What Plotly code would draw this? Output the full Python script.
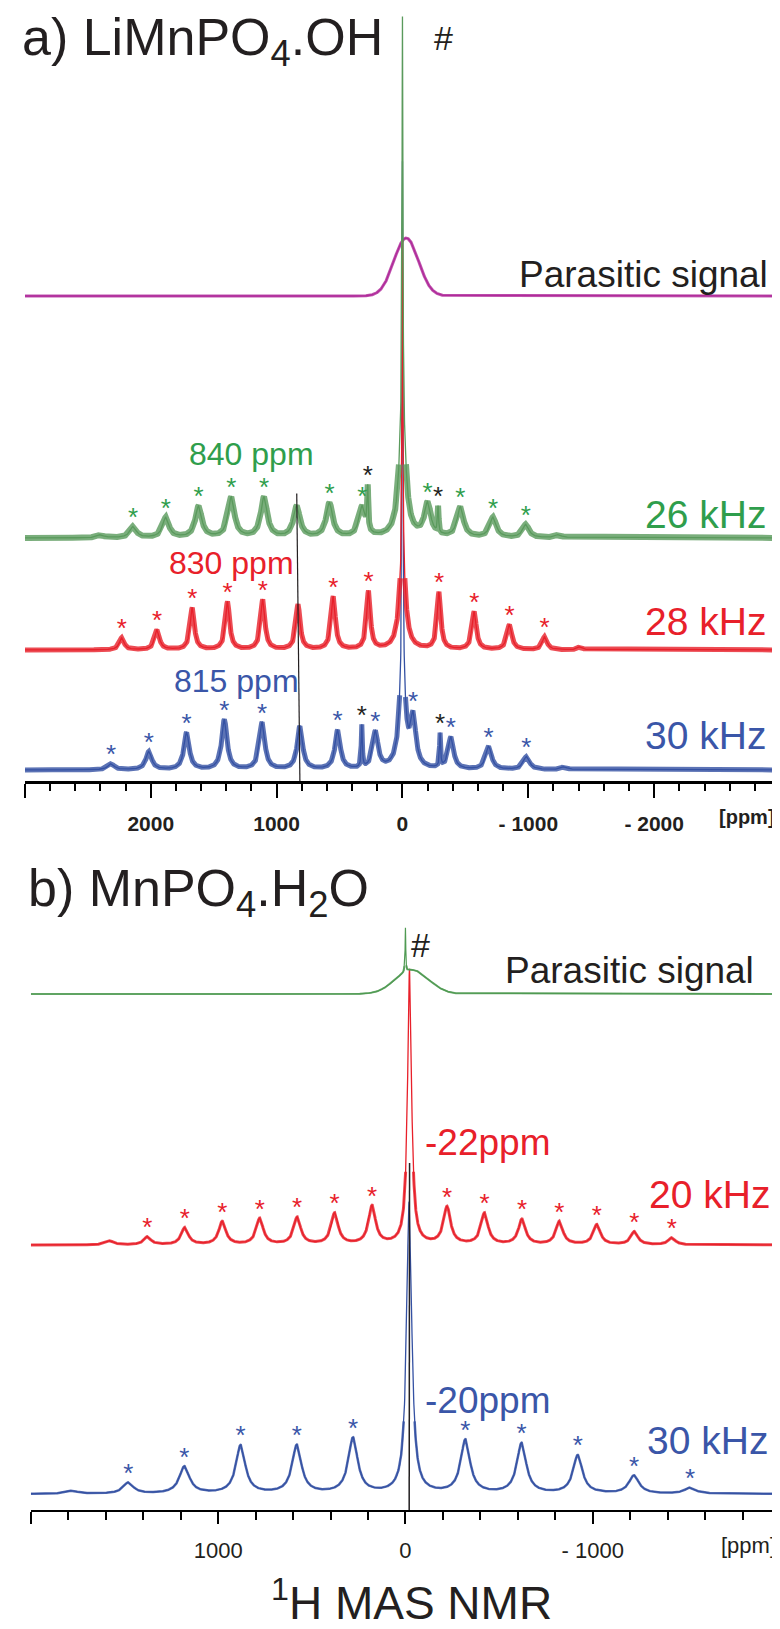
import numpy as np
import plotly.graph_objects as go

# ---------------- DATA ----------------
# Panel a) LiMnPO4.OH  -- peak lists: position (ppm), height (intensity units), FWHM (ppm)
a_par_pos = [-30]
a_par_h = [58]
a_par_w = [230]

a26_pos = [0, 0, 2400, 2140, 1880, 1620, 1360, 1100, 840, 580, 320, 276, -200, -283, -460, -720, -980, -1240]
a26_h = [400, 120, 3, 11, 20, 31, 40, 40, 31, 34, 30, 42, 33, 26, 30, 20, 13, 3]
a26_w = [8, 60, 60, 60, 60, 60, 60, 60, 60, 60, 60, 10, 60, 10, 60, 60, 60, 60]
a26_stars = [2140, 1880, 1620, 1360, 1100, 580, 320, -200, -460, -720, -980]
a26_black = [276, -283]

a28_pos = [0, 0, 2230, 1950, 1670, 1390, 1110, 830, 550, 270, -290, -570, -850, -1130, -1410]
a28_h = [330, 80, 12, 20, 42, 48, 50, 45, 53, 58, 57, 38, 25, 13, 3]
a28_w = [8, 60, 45, 45, 40, 40, 40, 40, 40, 35, 35, 40, 45, 45, 45]
a28_stars = [2230, 1950, 1670, 1390, 1110, 550, 270, -290, -570, -850, -1130]

a30_pos = [0, 0, 2315, 2015, 1715, 1415, 1115, 815, 515, 323, 215, -85, -299, -385, -685, -985, -1285]
a30_h = [520, 84, 6, 18, 37, 50, 47, 43, 39, 42, 37, 48, 33, 32, 23, 13, 3]
a30_w = [8, 60, 60, 55, 50, 50, 50, 50, 50, 10, 50, 50, 10, 50, 55, 60, 60]
a30_stars = [2315, 2015, 1715, 1415, 1115, 515, 215, -85, -385, -685, -985]
a30_black = [323, -299]

iso_a = [840, 830, 815]            # isotropic shifts (26, 28, 30 kHz)
iso_a_labels = ["840 ppm", "830 ppm", "815 ppm"]

# Panel b) MnPO4.H2O
b_par_pos = [-35]
b_par_h = [24]
b_par_w = [210]
b_par_spike_pos = [0]
b_par_spike_h = [44]

b20_pos = [-22, 1578, 1378, 1178, 978, 778, 578, 378, 178, -222, -422, -622, -822, -1022, -1222, -1422]
b20_h = [275, 4, 8, 17, 23, 26, 27, 31, 38, 37, 31, 25, 23, 20, 13, 7]
b20_w = [25, 50, 45, 45, 45, 45, 45, 45, 45, 45, 45, 45, 45, 45, 45, 45]
b20_stars = [1378, 1178, 978, 778, 578, 378, 178, -222, -422, -622, -822, -1022, -1222, -1422]

b30_pos = [-20, 1780, 1480, 1180, 880, 580, 280, -320, -620, -920, -1220, -1520]
b30_h = [291, 3, 11, 27, 48, 48, 55, 53, 50, 38, 18, 6]
b30_w = [33, 70, 65, 65, 60, 60, 60, 60, 60, 60, 65, 70]
b30_stars = [1480, 1180, 880, 580, 280, -320, -620, -920, -1220, -1520]

iso_b = [-22, -20]
iso_b_labels = ["-22ppm", "-20ppm"]

ticks_a = [3000, 2000, 1000, 0, -1000, -2000, -3000]
ticks_a_text = [" ", "2000", "1000", "0", "- 1000", "- 2000", " "]
ticks_b = [2000, 1000, 0, -1000, -2000]
ticks_b_text = [" ", "1000", "0", "- 1000", " "]

# ---------------- helpers ----------------
W, H = 780, 1629
xa = np.arange(-3000, 3001, 1.0)
xb = np.arange(-2000, 2001, 1.0)


def lor(x, pos, h, w):
    y = np.zeros_like(x)
    for p, hh, ww in zip(pos, h, w):
        y += hh / (1 + ((x - p) / (ww / 2.0)) ** 2)
    return y


def gau(x, pos, h, w):
    y = np.zeros_like(x)
    for p, hh, ww in zip(pos, h, w):
        y += hh * np.exp(-4 * np.log(2) * ((x - p) / ww) ** 2)
    return y


def px(x, y):
    return x / W, 1 - y / H

# pixel geometry
A_AXIS, A_TOP = 773, 0
B_AXIS, B_TOP = 1502, 880
base_a = {"par": 288, "26": 530, "28": 642, "30": 762}
base_b = {"par": 986, "20": 1237, "30": 1486}

GREEN_T, GREEN_L = "#2f9e4c", "#5a9a5c"
RED = "#e8202a"
BLUE_T, BLUE_L = "#3a56a8", "#3451a3"
MAG = "#b02a9a"
GREEN_B = "#4f9a52"
BLACK = "#231f20"

fig = go.Figure()


def add_spec(x, y, off, color, band, xaxis, yaxis, core=1.3, cap=75):
    # wide translucent band imitates the noise envelope near the baseline only
    yb = np.where(y > cap, np.nan, y) + off
    fig.add_trace(go.Scatter(x=x, y=yb, mode="lines", line=dict(color=color, width=band),
                             opacity=0.8, xaxis=xaxis, yaxis=yaxis, hoverinfo="skip",
                             showlegend=False, connectgaps=False))
    fig.add_trace(go.Scatter(x=x, y=y + off, mode="lines", line=dict(color=color, width=core),
                             xaxis=xaxis, yaxis=yaxis, hoverinfo="skip", showlegend=False))


def add_stars(x, y, off, positions, color, xaxis, yaxis, lift=7):
    sy = np.interp(positions, x, y) + off + lift
    fig.add_trace(go.Scatter(x=positions, y=sy, mode="text", text=["*"] * len(positions),
                             textfont=dict(family="Arial, Liberation Sans", size=26, color=color),
                             textposition="middle center", xaxis=xaxis, yaxis=yaxis,
                             hoverinfo="skip", showlegend=False))

# ---- panel a ----
ya_par = gau(xa, a_par_pos, a_par_h, a_par_w)
ya26 = lor(xa, a26_pos, a26_h, a26_w)
ya28 = lor(xa, a28_pos, a28_h, a28_w)
ya30 = lor(xa, a30_pos, a30_h, a30_w)
oa = {k: A_AXIS - v for k, v in base_a.items()}

add_spec(xa, ya_par, oa["par"], MAG, 3, "x", "y", cap=200)
add_spec(xa, ya30, oa["30"], BLUE_L, 5, "x", "y")
add_spec(xa, ya28, oa["28"], RED, 5, "x", "y")
add_spec(xa, ya26, oa["26"], GREEN_L, 6, "x", "y")

add_stars(xa, ya26, oa["26"], a26_stars, GREEN_T, "x", "y")
add_stars(xa, ya26, oa["26"], a26_black, BLACK, "x", "y")
add_stars(xa, ya28, oa["28"], a28_stars, RED, "x", "y")
add_stars(xa, ya30, oa["30"], a30_stars, BLUE_T, "x", "y")
add_stars(xa, ya30, oa["30"], a30_black, BLACK, "x", "y")

# black guide line through isotropic peaks
ga_y = [oa["26"] + float(np.interp(iso_a[0], xa, ya26)) + 12,
        oa["28"] + float(np.interp(iso_a[1], xa, ya28)),
        0]
fig.add_trace(go.Scatter(x=[iso_a[0], iso_a[1], iso_a[2]], y=ga_y, mode="lines",
                         line=dict(color=BLACK, width=1.2), xaxis="x", yaxis="y",
                         hoverinfo="skip", showlegend=False))

# ---- panel b ----
yb_par = gau(xb, b_par_pos, b_par_h, b_par_w) + lor(xb, b_par_spike_pos, b_par_spike_h, [4])
yb20 = lor(xb, b20_pos, b20_h, b20_w)
yb30 = lor(xb, b30_pos, b30_h, b30_w)
ob = {k: B_AXIS - v for k, v in base_b.items()}

add_spec(xb, yb30, ob["30"], BLUE_L, 2.5, "x2", "y2")
add_spec(xb, yb20, ob["20"], RED, 3, "x2", "y2")
add_spec(xb, yb_par, ob["par"], GREEN_B, 2, "x2", "y2", core=1.2, cap=30)
add_stars(xb, yb20, ob["20"], b20_stars, RED, "x2", "y2")
add_stars(xb, yb30, ob["30"], b30_stars, BLUE_T, "x2", "y2")

fig.add_trace(go.Scatter(x=[iso_b[0], iso_b[1]], y=[B_AXIS - 1155, 0], mode="lines",
                         line=dict(color=BLACK, width=1.5), xaxis="x2", yaxis="y2",
                         hoverinfo="skip", showlegend=False))

# ---------------- layout ----------------
FONT = "Arial, Liberation Sans, Helvetica, sans-serif"


def xaxis_cfg(dom, rng, tv, tt, bold, lw, tl, mtl, fsize, standoff):
    return dict(domain=dom, range=rng, autorange=False, showgrid=False, zeroline=False,
                showline=True, linecolor="black", linewidth=lw, mirror=False,
                ticks="outside", ticklen=tl, tickwidth=2, tickcolor="black",
                tickvals=tv, ticktext=tt, ticklabelstandoff=standoff,
                tickfont=dict(family=FONT, size=fsize, color=BLACK, weight="bold" if bold else "normal"),
                minor=dict(ticks="outside", ticklen=mtl, tickwidth=1.5, tickcolor="black",
                           tickmode="linear", tick0=0, dtick=200))


fig.update_layout(
    width=W, height=H, margin=dict(l=0, r=0, t=0, b=0),
    paper_bgcolor="white", plot_bgcolor="rgba(0,0,0,0)", showlegend=False,
    xaxis=xaxis_cfg([14 / W, 775 / W], [3000, -3000], ticks_a, ticks_a_text, True, 2.5, 14, 7, 21, 8),
    yaxis=dict(domain=[1 - A_AXIS / H, 1 - A_TOP / H], range=[0, A_AXIS - A_TOP], visible=False,
               anchor="x"),
    xaxis2=dict(**xaxis_cfg([20 / W, 775 / W], [2000, -2000], ticks_b, ticks_b_text, False, 2, 12, 8, 22, 8),
                anchor="y2"),
    yaxis2=dict(domain=[1 - B_AXIS / H, 1 - B_TOP / H], range=[0, B_AXIS - B_TOP], visible=False,
                anchor="x2"),
)
fig.layout.xaxis.anchor = "y"

ann = []


def text(s, x, y, size, color=BLACK, xanchor="center", bold=False):
    xx, yy = px(x, y)
    ann.append(dict(text=s, x=xx, y=yy, xref="paper", yref="paper", xanchor=xanchor,
                    yanchor="middle", showarrow=False, borderpad=0,
                    font=dict(family=FONT, size=size, color=color, weight="bold" if bold else "normal")))


text("a) LiMnPO<sub>4</sub>.OH", 10, 33, 52, xanchor="left")
text("#", 436, 30, 34)
text("Parasitic signal", 764, 266, 37, xanchor="right")
text(iso_a_labels[0], 242, 446, 32, GREEN_T)
text(iso_a_labels[1], 222, 555, 32, RED)
text(iso_a_labels[2], 227, 673, 32, BLUE_T)
text("26 kHz", 762, 507, 39, GREEN_T, xanchor="right")
text("28 kHz", 762, 613, 39, RED, xanchor="right")
text("30 kHz", 762, 727, 39, BLUE_T, xanchor="right")
text("[ppm]", 771, 809, 20, xanchor="right", bold=True)

text("b) MnPO<sub>4</sub>.H<sub>2</sub>O", 16, 884, 52, xanchor="left")
text("#", 413, 937, 34)
text("Parasitic signal", 750, 962, 37, xanchor="right")
text(iso_b_labels[0], 416, 1134, 37, RED, xanchor="left")
text("20 kHz", 766, 1186, 39, RED, xanchor="right")
text(iso_b_labels[1], 416, 1392, 37, BLUE_T, xanchor="left")
text("30 kHz", 764, 1432, 39, BLUE_T, xanchor="right")
text("[ppm]", 772, 1537, 22, xanchor="right")
text("<sup>1</sup>H MAS NMR", 404, 1592, 46)

fig.update_layout(annotations=ann)
fig.write_html("out.html")
